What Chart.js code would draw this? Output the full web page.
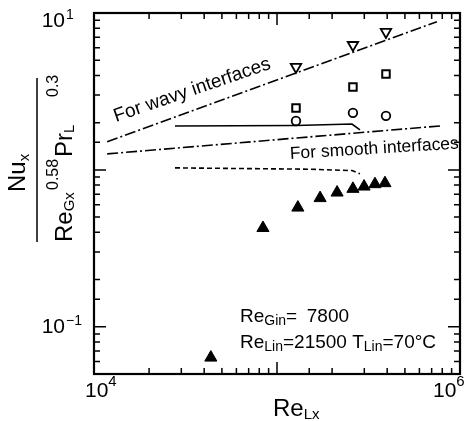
<!DOCTYPE html>
<html>
<head>
<meta charset="utf-8">
<script src="https://cdn.jsdelivr.net/npm/chart.js@4/dist/chart.umd.min.js"></script>
<style>
  html, body { margin: 0; padding: 0; background: #fff; }
</style>
</head>
<body>
<canvas id="graph" width="469" height="421"></canvas>
<script>
// values (x = Re_Lx, y = Nu_x / (Re_Gx^0.58 Pr_L^0.3))
const filledX = [43500, 83800, 130000, 172000, 213000, 260000, 299000, 343000, 389000];
const filledY = [0.0636, 0.426, 0.575, 0.661, 0.717, 0.757, 0.783, 0.811, 0.823];
const openX = [127000, 260000, 394000];
const triDownY = [4.53, 6.25, 7.57];
const squareY = [2.48, 3.38, 4.08];
const circleY = [2.05, 2.31, 2.21];

// correlation lines
const wavyX = [11800, 748000];
const wavyY = [1.51, 8.8];
const smoothX = [11800, 778000];
const smoothY = [1.265, 1.905];
const solidX = [27700, 127000, 257000, 284000];
const solidY = [1.905, 1.92, 1.96, 1.80];
const dashX = [27700, 150000, 257000, 284000];
const dashY = [1.03, 1.01, 0.99, 0.945];

// axis ranges and tick labels
const xMin = 1e4, xMax = 1e6;
const yMin = 0.05, yMax = 10;
const xLabelVals = [1e4, 1e6];
const xLabelExps = ['4', '6'];
const yLabelVals = [10, 0.1];
const yLabelExps = ['1', '\u22121'];

const TXT = '"Liberation Sans", Arial, Helvetica, sans-serif';

function pts(xs, ys) {
  return xs.map((x, i) => ({ x: x, y: ys[i] }));
}

// draw text pieces one after another: [text, size, dy]
function rich(ctx, x, y, parts) {
  for (const p of parts) {
    ctx.font = p[1] + 'px ' + TXT;
    ctx.fillText(p[0], x, y + (p[2] || 0));
    x += ctx.measureText(p[0]).width + (p[3] || 0);
  }
  return x;
}

function tickValues(scale, lo, hi) {
  let vals = (scale.ticks || []).map(t => t.value).filter(v => v >= lo * 0.999 && v <= hi * 1.001);
  if (vals.length < 3) {
    vals = [];
    for (let e = Math.floor(Math.log10(lo)); e <= Math.ceil(Math.log10(hi)); e++) {
      for (let m = 1; m < 10; m++) {
        const v = m * Math.pow(10, e);
        if (v >= lo * 0.999 && v <= hi * 1.001) vals.push(v);
      }
    }
  }
  return vals;
}

const isMajor = v => Math.abs(Math.log10(v) - Math.round(Math.log10(v))) < 1e-6;

const framePlugin = {
  id: 'frame',
  afterDraw(chart) {
    const ctx = chart.ctx, a = chart.chartArea;
    const xs = chart.scales.x, ys = chart.scales.y;
    ctx.save();
    ctx.strokeStyle = '#000';
    ctx.fillStyle = '#000';

    // inward ticks on all four sides
    ctx.lineWidth = 1.5;
    ctx.beginPath();
    tickValues(xs, xMin, xMax).forEach(v => {
      const px = xs.getPixelForValue(v);
      const len = isMajor(v) ? 12 : 6;
      ctx.moveTo(px, a.bottom); ctx.lineTo(px, a.bottom - len);
      ctx.moveTo(px, a.top); ctx.lineTo(px, a.top + len);
    });
    tickValues(ys, yMin, yMax).forEach(v => {
      const py = ys.getPixelForValue(v);
      const len = isMajor(v) ? 12 : 6;
      ctx.moveTo(a.left, py); ctx.lineTo(a.left + len, py);
      ctx.moveTo(a.right, py); ctx.lineTo(a.right - len, py);
    });
    ctx.stroke();

    ctx.lineWidth = 2.2;
    ctx.strokeRect(a.left, a.top, a.right - a.left, a.bottom - a.top);

    // tick labels
    ctx.textBaseline = 'alphabetic';
    ctx.textAlign = 'left';
    const yOff = [14, 6];
    yLabelVals.forEach((v, i) => {
      const py = ys.getPixelForValue(v) + yOff[i];
      ctx.font = '21px ' + TXT;
      const w = ctx.measureText('10').width;
      rich(ctx, a.left - 29 - w, py, [['10', 21, 0, 1], [yLabelExps[i], 14, -8]]);
    });
    const xOff = [-9, -27];
    xLabelVals.forEach((v, i) => {
      const px = xs.getPixelForValue(v) + xOff[i];
      rich(ctx, px, 397, [['10', 21, 0, 0], [xLabelExps[i], 15, -11]]);
    });

    // x title
    rich(ctx, 273, 416, [['Re', 24], ['Lx', 15, 3]]);

    // y title (rotated fraction)
    ctx.save();
    ctx.rotate(-Math.PI / 2);
    rich(ctx, -192, 25, [['Nu', 24], ['x', 15, 4]]);
    rich(ctx, -242, 72, [['Re', 24], ['Gx', 15, 2]]);
    rich(ctx, -190, 58, [['0.58', 16]]);
    rich(ctx, -157, 72, [['Pr', 24], ['L', 15, 2]]);
    rich(ctx, -97, 58, [['0.3', 16]]);
    ctx.restore();
    ctx.lineWidth = 1.5;
    ctx.beginPath();
    ctx.moveTo(37, 78); ctx.lineTo(37, 242);
    ctx.stroke();

    // labels on the lines
    ctx.save();
    ctx.translate(xs.getPixelForValue(13200), ys.getPixelForValue(2.02));
    ctx.rotate(-19 * Math.PI / 180);
    rich(ctx, 0, 0, [['For wavy interfaces', 19]]);
    ctx.restore();

    ctx.save();
    ctx.translate(xs.getPixelForValue(118000), ys.getPixelForValue(1.175));
    ctx.rotate(-3.5 * Math.PI / 180);
    rich(ctx, 0, 0, [['For smooth interfaces', 17.5]]);
    ctx.restore();

    // run conditions
    const tx = xs.getPixelForValue(62800);
    const l1 = ys.getPixelForValue(0.1077);
    const l2 = ys.getPixelForValue(0.0734);
    rich(ctx, tx, l1, [['Re', 19], ['Gin', 14, 3], ['=', 19]]);
    ctx.font = '19px ' + TXT;
    ctx.textAlign = 'right';
    ctx.fillText('7800', tx + 109, l1);
    ctx.textAlign = 'left';
    rich(ctx, tx, l2, [['Re', 19], ['Lin', 14, 3], ['=21500 T', 19], ['Lin', 14, 3], ['=70\u00b0C', 19]]);

    ctx.restore();
  }
};

const lineStyle = {
  type: 'line', showLine: true, fill: false, pointRadius: 0,
  borderColor: '#000', borderWidth: 1.6, tension: 0
};

const graph = new Chart(document.getElementById('graph'), {
  type: 'scatter',
  data: {
    datasets: [
      Object.assign({ data: pts(wavyX, wavyY), borderDash: [11, 3, 2, 3] }, lineStyle),
      Object.assign({ data: pts(smoothX, smoothY), borderDash: [11, 3, 2, 3] }, lineStyle),
      Object.assign({ data: pts(solidX, solidY) }, lineStyle),
      Object.assign({ data: pts(dashX, dashY), borderDash: [5, 3] }, lineStyle),
      {
        data: pts(filledX, filledY), pointStyle: 'triangle', pointRadius: 7,
        backgroundColor: '#000', borderColor: '#000', borderWidth: 1
      },
      {
        data: pts(openX, triDownY), pointStyle: 'triangle', rotation: 180, pointRadius: 6,
        backgroundColor: '#fff', borderColor: '#000', borderWidth: 1.8
      },
      {
        data: pts(openX, squareY), pointStyle: 'rect', pointRadius: 5.3,
        backgroundColor: '#fff', borderColor: '#000', borderWidth: 2
      },
      {
        data: pts(openX, circleY), pointStyle: 'circle', pointRadius: 4.3,
        backgroundColor: '#fff', borderColor: '#000', borderWidth: 1.8
      }
    ]
  },
  options: {
    responsive: false,
    animation: false,
    devicePixelRatio: 1,
    layout: { padding: { left: 94, right: 9, top: 13, bottom: 47 } },
    plugins: { legend: { display: false }, tooltip: { enabled: false } },
    scales: {
      x: { type: 'logarithmic', min: xMin, max: xMax, display: false, ticks: { display: false } },
      y: { type: 'logarithmic', min: yMin, max: yMax, display: false, ticks: { display: false } }
    }
  },
  plugins: [framePlugin]
});
</script>
</body>
</html>
